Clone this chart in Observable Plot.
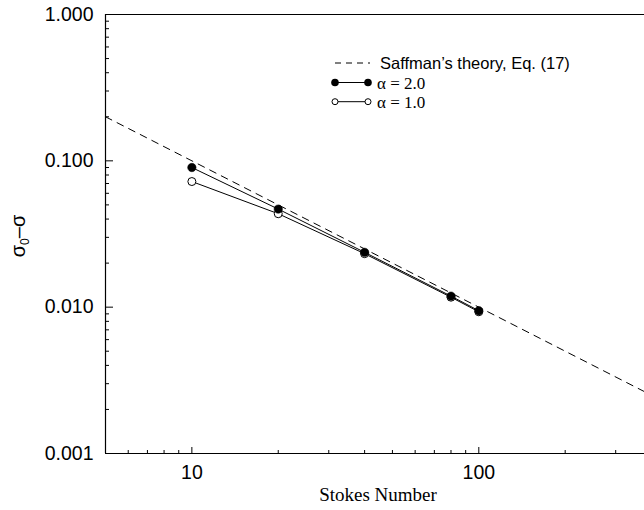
<!DOCTYPE html>
<html>
<head>
<meta charset="utf-8">
<script src="https://cdn.jsdelivr.net/npm/d3@7"></script>
<script src="https://cdn.jsdelivr.net/npm/@observablehq/plot@0.6"></script>
<style>
  html, body { margin: 0; padding: 0; background: #fff; overflow: hidden; }
  #chart { position: relative; width: 644px; height: 510px; }
  #chart svg g[aria-label$="tick label"], #chart svg g[aria-label$="tick label"] text { font-size: 19.5px !important; font-family: "Liberation Sans", Arial, sans-serif !important; }
</style>
</head>
<body>
<div id="chart"></div>
<script>
// ---- data ----
const stokes = [10, 20, 40, 80, 100];
const alpha2 = [0.0900, 0.0468, 0.0237, 0.0119, 0.00946];
const alpha1 = [0.0722, 0.0435, 0.0232, 0.0117, 0.0093];
const theoryX = [5, 378];
const theoryY = [0.2, 0.002646];
const xMajor = [10, 100];
const xMinor = [6, 7, 8, 9, 20, 30, 40, 50, 60, 70, 80, 90, 200, 300];
const yMajor = [0.001, 0.01, 0.1, 1];
const yMinor = [0.002,0.003,0.004,0.005,0.006,0.007,0.008,0.009,
                0.02,0.03,0.04,0.05,0.06,0.07,0.08,0.09,
                0.2,0.3,0.4,0.5,0.6,0.7,0.8,0.9];
const xDomain = [5, 378];
const yDomain = [0.001, 1];
const legendLabels = ["Saffman\u2019s theory, Eq. (17)", "\u03b1 = 2.0", "\u03b1 = 1.0"];

const s2 = stokes.map((x, i) => ({x, y: alpha2[i]}));
const s1 = stokes.map((x, i) => ({x, y: alpha1[i]}));
const theory = theoryX.map((x, i) => ({x, y: theoryY[i]}));

const sans = "'Liberation Sans', Arial, Helvetica, sans-serif";
const serif = "'Liberation Serif', 'Times New Roman', serif";

const plot = Plot.plot({
  width: 644,
  height: 510,
  marginLeft: 105,
  marginRight: 0,
  marginTop: 14,
  marginBottom: 57,
  style: {fontFamily: sans, fontSize: "19px", color: "#000", background: "#fff", overflow: "visible"},
  x: {type: "log", domain: xDomain},
  y: {type: "log", domain: yDomain},
  marks: [
    // frame (left, bottom, top)
    Plot.ruleX([xDomain[0]], {stroke: "#000", strokeWidth: 1.2}),
    Plot.ruleY([yDomain[0], yDomain[1]], {stroke: "#000", strokeWidth: 1.2}),
    // y axis
    Plot.axisY({ticks: yMajor, tickSize: -8, tickPadding: 20, tickFormat: d3.format(".3f"), label: null, fontSize: 19.5}),
    Plot.axisY({ticks: yMinor, tickSize: -4, text: null, label: null}),
    // x axis
    Plot.axisX({ticks: xMajor, tickSize: -6, tickPadding: 18, tickFormat: d => String(d), label: null, fontSize: 19.5}),
    Plot.axisX({ticks: xMinor, tickSize: -3, text: null, label: null}),
    // theory
    Plot.line(theory, {x: "x", y: "y", stroke: "#000", strokeWidth: 1, strokeDasharray: "7,6"}),
    // data
    Plot.line(s1, {x: "x", y: "y", stroke: "#000", strokeWidth: 1}),
    Plot.line(s2, {x: "x", y: "y", stroke: "#000", strokeWidth: 1}),
    Plot.dot(s1, {x: "x", y: "y", r: 4, fill: "#fff", stroke: "#000", strokeWidth: 1}),
    Plot.dot(s2, {x: "x", y: "y", r: 4.2, fill: "#000", stroke: "#000", strokeWidth: 0.5})
  ]
});
document.getElementById("chart").appendChild(plot);

const svg = d3.select(plot);

// x label
svg.append("text")
  .attr("x", 378).attr("y", 501)
  .attr("text-anchor", "middle")
  .style("font-family", serif).style("font-size", "19px").attr("fill", "#000")
  .text("Stokes Number");

// y label  σ0–σ
const yl = svg.append("text")
  .attr("transform", "translate(25,236) rotate(-90)")
  .attr("text-anchor", "middle")
  .style("font-family", sans).style("font-size", "20px").attr("fill", "#000");
yl.append("tspan").text("\u03c3");
yl.append("tspan").attr("dy", 4).style("font-size", "12px").text("0");
yl.append("tspan").attr("dy", -4).text("\u2013\u03c3");

// legend
const lg = svg.append("g").attr("text-anchor", "start");
lg.append("line").attr("x1", 335).attr("x2", 370).attr("y1", 63).attr("y2", 63)
  .attr("stroke", "#000").attr("stroke-dasharray", "6,5");
lg.append("text").attr("x", 380).attr("y", 68.5).attr("text-anchor", "start")
  .style("font-family", sans).style("font-size", "16.5px").attr("fill", "#000").text(legendLabels[0]);
// alpha 2
lg.append("line").attr("x1", 335).attr("x2", 368).attr("y1", 82.5).attr("y2", 82.5).attr("stroke", "#000");
[335, 368].forEach(cx => lg.append("circle").attr("cx", cx).attr("cy", 82.5).attr("r", 3.8).attr("fill", "#000"));
lg.append("text").attr("x", 377).attr("y", 88.5).attr("text-anchor", "start")
  .style("font-family", serif).style("font-size", "17px").attr("fill", "#000").text(legendLabels[1]);
// alpha 1
lg.append("line").attr("x1", 335).attr("x2", 368).attr("y1", 101.7).attr("y2", 101.7).attr("stroke", "#000");
[335, 368].forEach(cx => lg.append("circle").attr("cx", cx).attr("cy", 101.7).attr("r", 3).attr("fill", "#fff").attr("stroke", "#000"));
lg.append("text").attr("x", 377).attr("y", 107.5).attr("text-anchor", "start")
  .style("font-family", serif).style("font-size", "17px").attr("fill", "#000").text(legendLabels[2]);
</script>
</body>
</html>
